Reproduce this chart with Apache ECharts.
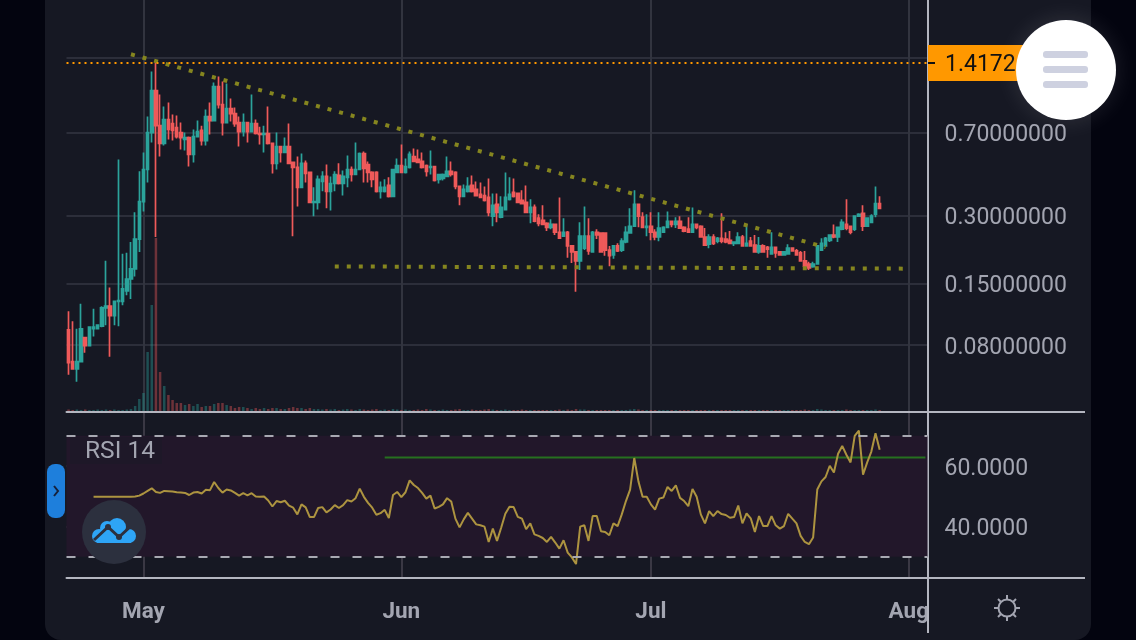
<!DOCTYPE html>
<html>
<head>
<meta charset="utf-8">
<style>
  html, body { margin: 0; padding: 0; background: #03040f; }
  #chart { width: 1136px; height: 640px; }
</style>
<script src="https://cdn.jsdelivr.net/npm/echarts@6/dist/echarts.min.js"></script>
</head>
<body>
<div id="chart"></div>
<script>
// 12h candles, first one is 22 Apr
const opens = [
  .0935,.0675,.0628,.0675,.0863,.0795,.0945,.0945,.097,.117,.119,.108,.125,.125,.139,.157,.174,.236,.346,.480,
  .700,1.074,.751,.626,.799,.767,.736,.700,.652,.665,.560,.672,.715,.645,.824,.791,1.119,.931,.775,.894,
  .849,.775,.707,.775,.707,.767,.693,.686,.693,.626,.511,.607,.571,.607,.516,.490,.400,.511,.466,.343,
  .343,.425,.447,.384,.416,.452,.416,.443,.480,.456,.480,.565,.505,.466,.466,.384,.384,.408,.365,.466,
  .500,.466,.490,.548,.532,.521,.500,.490,.495,.434,.438,.447,.471,.466,.404,.365,.384,.408,.392,.372,
  .368,.361,.298,.336,.295,.319,.354,.380,.376,.350,.343,.310,.326,.292,.286,.277,.266,.274,.253,.243,
  .253,.220,.207,.189,.215,.243,.207,.253,.251,.251,.211,.201,.220,.211,.229,.251,.269,.336,.295,.266,
  .269,.253,.241,.253,.266,.283,.274,.283,.266,.261,.253,.274,.269,.241,.224,.241,.231,.238,.236,.233,
  .226,.226,.241,.220,.231,.222,.207,.220,.217,.203,.217,.207,.201,.203,.215,.209,.205,.189,.183,.178,
  .183,.211,.220,.233,.246,.241,.261,.274,.269,.261,.298,.307,.269,.280,.304,.339
]
const closes = [
  .0668,.0628,.0675,.0945,.0795,.096,.096,.098,.117,.119,.108,.125,.126,.142,.157,.174,.236,.346,.480,.700,
  1.074,.751,.626,.799,.722,.715,.672,.665,.665,.560,.672,.707,.645,.824,.791,1.119,.931,.775,.894,.849,
  .767,.707,.775,.707,.767,.693,.686,.693,.626,.511,.607,.571,.607,.511,.490,.400,.511,.461,.343,.346,
  .434,.447,.384,.416,.456,.416,.447,.480,.456,.480,.565,.485,.466,.434,.384,.400,.400,.365,.480,.500,
  .466,.495,.560,.521,.516,.490,.471,.495,.429,.456,.456,.471,.456,.404,.365,.392,.404,.384,.368,.361,
  .350,.310,.333,.310,.326,.361,.372,.365,.343,.339,.310,.326,.283,.277,.274,.266,.274,.253,.238,.253,
  .220,.207,.189,.243,.243,.209,.253,.246,.207,.211,.199,.220,.209,.231,.253,.269,.336,.298,.266,.269,
  .253,.241,.264,.266,.283,.274,.283,.264,.256,.253,.274,.266,.241,.222,.241,.226,.238,.231,.229,.226,
  .229,.241,.220,.226,.220,.207,.220,.207,.213,.217,.205,.201,.207,.215,.209,.201,.189,.179,.176,.183,
  .220,.226,.238,.246,.241,.266,.280,.264,.253,.298,.304,.269,.292,.298,.339,.323
]
const lows = [
  .0591,.0628,.055,.0675,.074,.0795,.0872,.0945,.096,.098,.071,.098,.097,.120,.133,.128,.161,.207,.313,.420,
  .632,.241,.548,.613,.652,.645,.658,.589,.583,.495,.516,.665,.613,.613,.686,.783,.894,.679,.775,.783,
  .743,.607,.672,.632,.707,.686,.619,.571,.619,.461,.480,.516,.571,.511,.243,.329,.400,.420,.343,.298,
  .319,.384,.323,.316,.384,.412,.368,.400,.425,.456,.480,.420,.420,.400,.380,.357,.380,.361,.365,.466,
  .466,.461,.485,.521,.516,.485,.447,.456,.425,.416,.429,.443,.447,.392,.333,.365,.380,.380,.368,.361,
  .346,.298,.269,.280,.292,.319,.350,.361,.343,.339,.310,.277,.280,.269,.274,.256,.261,.246,.238,.243,
  .195,.185,.138,.172,.211,.201,.207,.236,.207,.199,.179,.193,.207,.207,.226,.251,.269,.266,.264,.243,
  .233,.233,.231,.253,.264,.266,.264,.264,.253,.253,.253,.261,.241,.220,.215,.222,.226,.226,.226,.224,
  .220,.224,.220,.220,.220,.207,.203,.205,.195,.201,.195,.201,.201,.201,.209,.199,.189,.176,.172,.176,
  .183,.209,.220,.229,.238,.229,.258,.258,.248,.256,.298,.256,.269,.280,.295,.323
]
const highs = [
  .113,.102,.0945,.122,.0863,.096,.116,.098,.119,.189,.144,.125,.532,.203,.205,.229,.310,.471,.571,.824,
  1.304,1.430,1.032,.913,.950,.841,.832,.775,.700,.672,.722,.791,.751,.885,.950,1.166,1.240,1.178,1.154,.990,
  .904,.824,.849,.775,1.032,.799,.743,.751,.913,.632,.700,.607,.665,.767,.521,.548,.565,.526,.466,.400,
  .452,.471,.505,.447,.471,.511,.475,.554,.495,.632,.571,.577,.521,.471,.471,.425,.434,.443,.480,.537,
  .619,.537,.577,.595,.589,.571,.505,.583,.495,.456,.461,.548,.521,.471,.404,.412,.443,.452,.425,.420,
  .404,.438,.376,.376,.365,.466,.443,.438,.380,.388,.408,.354,.336,.304,.333,.280,.289,.274,.361,.292,
  .256,.222,.209,.280,.329,.292,.256,.261,.251,.251,.220,.222,.226,.238,.269,.323,.388,.336,.310,.304,
  .310,.261,.310,.269,.313,.283,.295,.298,.269,.295,.326,.274,.272,.264,.248,.248,.241,.307,.253,.256,
  .231,.253,.246,.274,.241,.246,.241,.224,.220,.253,.217,.207,.207,.224,.217,.213,.209,.209,.187,.187,
  .222,.238,.241,.248,.274,.266,.289,.354,.269,.298,.307,.333,.295,.304,.404,.365
]
const volumes = [
  1.5,1,1.5,1,1.5,1,1,1.5,1,1.5,1,1.5,1,1,1.5,2,5,12,18,59,
  106,173,39,25,16,11,8,8,6,7,5,7,4,5,5,7,8,8,6,5,
  3,4,4,3,2,3,2,3,2,3,3,2,2,3,4,3,3,2,3,2,
  2,1.5,2,1.5,2,1,1.5,2,1.5,1,2,1.5,1,1.5,2,1,1.5,1,2,1.5,
  1,1.5,1,1,1.5,1,2,1.5,1,1,1.5,1,1,1.5,2,1,1,1.5,1,1,
  1.5,2,1.5,1,1,1.5,1,1,1,1.5,1,1,1,1,1,1,1,1,1.5,1,
  1.5,1,2,1.5,1.5,1,1,1,1,1,1,1,1,1,1,1.5,2,1.5,1,1,
  1,1,1,1,1,1,1,1,1,1,1,1,1,1,1,1,1,1,1,1,
  1,1,1,1,1,1,1,1,1,1,1,1,1,1,1,1,1,1.5,1,1,
  2,1.5,1,1,1,1,1,1.5,1,1,1,1,1,1,1.5,1
]
const rsi = [
  null,null,null,null,null,null,49.8,49.8,49.8,49.8,49.8,49.8,49.8,49.8,49.8,49.8,49.9,50.2,50.9,51.75,
  52.6,51.4,51.1,51.75,51.65,51.55,51.3,51.2,51.1,50.4,51.2,51.4,50.9,52.1,52,54.7,52.7,51.2,52.2,51.9,
  51.1,50.2,51,50.3,51,49.9,49.8,49.9,48.6,46.6,48.4,48,48.5,46.9,46.2,44,47.3,46.3,43.1,43.1,
  46.1,46.4,44.65,45.6,47.05,46.1,47.05,48.7,48.25,49.35,52.5,49.8,47.8,46.2,43.9,44.4,45.5,42.8,50.4,51.4,
  49.7,51.3,55.25,53.7,52.7,51.1,49.2,50.2,45.95,46.5,47.3,49.35,48.25,42.6,39.7,42.35,44.5,42.6,40.7,40.4,
  39.95,34.9,39.3,35.25,39.6,44.2,46.5,46.4,43.2,42.6,39.1,41.05,37.4,36.9,36.2,34.9,36.6,34.7,32.7,35.45,
  31.4,29.8,27.6,39.95,40.4,35.25,43.45,43.45,38.4,38.2,37.1,41.05,40.15,44,48.4,52.2,62.6,54.9,49.8,49.8,
  47.3,45.6,49.2,49.55,53.05,51.75,53.6,49.45,48.4,46.7,52.4,49.8,44,41.05,45.1,43.45,45.1,44.1,43.8,42.9,
  43.1,46.9,41.05,44.3,42.7,38.2,43.45,40.15,40.15,43.45,40.4,39.3,40.15,44.2,42.6,41.05,36.9,34.9,34.15,36.35,
  52.2,54.9,56.35,60.05,57.85,64,66.6,63.7,61.15,69.9,71.65,57.1,61.15,64.75,70.8,65.3
]

const lastPrice = 1.4172
const priceTicks = [0.08, 0.15, 0.3, 0.7, 1.5, 3]
const rsiTicks = [40, 60]
const rsiBand = [30, 70]
const monthIndexes = [18, 80, 140, 202]
const monthLabels = ['May', 'Jun', 'Jul', 'Aug']

// hand drawn lines on the chart: [candle index, value]
const fallingTrend = [[14.7, 1.556], [181.5, 0.217]]
const supportLine = [[64.4, 0.1785], [200.8, 0.1745]]
const rsiLine = [[76, 62.8], [205.5, 62.8]]

const categories = []
for (let i = 0; i < 207; i++) {
  const d = new Date(Date.UTC(2019, 3, 22) + i * 43200000)
  categories.push(d.toISOString().slice(0, 13))
}

const UP = '#2ba39b'
const DOWN = '#ef5a5a'
const TEXT = '#a3a5b1'
const AXIS = '#b4b6c0'
const GRID_LINE = '#2c2e3a'
const FONT = 'Roboto, sans-serif'

const isMonth = (i) => monthIndexes.includes(i)

const hiddenX = (gridIndex) => ({
  type: 'category',
  gridIndex,
  data: categories,
  axisLabel: { show: false },
  axisTick: { show: false },
  axisLine: { show: gridIndex === 0, lineStyle: { color: AXIS, width: 2 } },
  splitLine: { show: gridIndex === 0, interval: isMonth, alignWithLabel: true, lineStyle: { color: '#32343f', width: 2 } }
})

const option = {
  animation: false,
  backgroundColor: '#03040f',
  grid: [
    { left: 66.5, width: 861, top: -20, height: 432, outerBoundsMode: 'none' },
    { left: 66.5, width: 861, top: 211, height: 200, outerBoundsMode: 'none' },
    { left: 66.5, width: 861, top: 412, height: 166, outerBoundsMode: 'none' }
  ],
  xAxis: [
    hiddenX(0),
    hiddenX(1),
    {
      type: 'category',
      gridIndex: 2,
      data: categories,
      axisLine: { lineStyle: { color: AXIS, width: 2 } },
      axisTick: { interval: isMonth, alignWithLabel: true, length: 6, lineStyle: { color: AXIS, width: 2 } },
      splitLine: { show: true, interval: isMonth, alignWithLabel: true, lineStyle: { color: '#3a3844', width: 2 } },
      axisLabel: {
        interval: isMonth,
        margin: 23,
        color: TEXT,
        fontFamily: FONT,
        fontSize: 22.5,
        fontWeight: 'bold',
        formatter: (v, i) => monthLabels[monthIndexes.indexOf(i)] || ''
      }
    }
  ],
  yAxis: [
    {
      type: 'log',
      gridIndex: 0,
      position: 'right',
      // 0.7 sits at y=132.5
      min: 0.0404,
      max: 3.32,
      axisLine: { show: true, lineStyle: { color: AXIS, width: 2 } },
      axisTick: { customValues: priceTicks, length: 9, lineStyle: { color: AXIS, width: 2 } },
      splitLine: { show: true, lineStyle: { color: GRID_LINE, width: 2 } },
      axisLabel: {
        customValues: priceTicks,
        margin: 17,
        color: TEXT,
        fontFamily: FONT,
        fontSize: 23,
        verticalAlign: 'top',
        lineHeight: 6,
        formatter: (v) => Number(v).toFixed(8)
      }
    },
    { type: 'value', gridIndex: 1, min: 0, max: 200, show: false, splitLine: { show: false } },
    {
      type: 'value',
      gridIndex: 2,
      position: 'right',
      min: 23,
      max: 77.8,
      axisLine: { show: true, lineStyle: { color: AXIS, width: 2 } },
      axisTick: { customValues: rsiTicks, length: 9, lineStyle: { color: AXIS, width: 2 } },
      splitLine: { show: true, lineStyle: { color: '#3a3144', width: 2 } },
      axisLabel: {
        customValues: rsiTicks,
        margin: 17,
        color: TEXT,
        fontFamily: FONT,
        fontSize: 23,
        verticalAlign: 'top',
        lineHeight: 6,
        formatter: (v) => Number(v).toFixed(4)
      }
    }
  ],
  series: [
    {
      name: 'Volume',
      type: 'bar',
      xAxisIndex: 1,
      yAxisIndex: 1,
      barWidth: 2.5,
      z: 1,
      data: volumes.map((v, i) => ({
        value: v,
        itemStyle: { color: closes[i] >= opens[i] ? 'rgba(43,163,155,0.4)' : 'rgba(239,90,90,0.4)' }
      }))
    },
    {
      name: 'Price',
      type: 'candlestick',
      xAxisIndex: 0,
      yAxisIndex: 0,
      barWidth: 3,
      z: 2,
      itemStyle: { color: UP, color0: DOWN, borderColor: UP, borderColor0: DOWN, borderWidth: 1.7 },
      data: opens.map((o, i) => [o, closes[i], lows[i], highs[i]]),
      markLine: {
        silent: true,
        symbol: 'none',
        label: { show: false },
        lineStyle: { color: '#ff9800', type: [2, 4], width: 2 },
        data: [{ yAxis: lastPrice }]
      }
    },
    {
      name: 'Falling trend',
      type: 'line',
      xAxisIndex: 0,
      yAxisIndex: 0,
      z: 3,
      symbol: 'none',
      lineStyle: { color: '#85851f', width: 4, type: [4, 8] },
      data: fallingTrend
    },
    {
      name: 'Support',
      type: 'line',
      xAxisIndex: 0,
      yAxisIndex: 0,
      z: 3,
      symbol: 'none',
      lineStyle: { color: '#85851f', width: 4, type: [4, 8] },
      data: supportLine
    },
    {
      name: 'RSI',
      type: 'line',
      xAxisIndex: 2,
      yAxisIndex: 2,
      z: 3,
      symbol: 'none',
      lineStyle: { color: '#ad9440', width: 2 },
      data: rsi,
      markArea: {
        silent: true,
        itemStyle: { color: '#22172a' },
        data: [[{ yAxis: rsiBand[0] }, { yAxis: rsiBand[1] }]]
      },
      markLine: {
        silent: true,
        symbol: 'none',
        label: { show: false },
        lineStyle: { color: '#a8a9b2', type: [9, 13], width: 2 },
        data: [{ yAxis: rsiBand[1] }, { yAxis: rsiBand[0] }]
      }
    },
    {
      name: 'RSI line',
      type: 'line',
      xAxisIndex: 2,
      yAxisIndex: 2,
      z: 2,
      symbol: 'none',
      lineStyle: { color: '#26701f', width: 2 },
      data: rsiLine
    }
  ],
  // the app chrome around the chart
  graphic: [
    { type: 'rect', z: -10, shape: { x: 45, y: -30, width: 1046, height: 670, r: 16 }, style: { fill: '#161823' } },
    { type: 'line', z: 50, shape: { x1: 928, y1: 578, x2: 928, y2: 633 }, style: { stroke: AXIS, lineWidth: 2 } },
    { type: 'line', z: 50, shape: { x1: 927, y1: 412, x2: 1085, y2: 412 }, style: { stroke: AXIS, lineWidth: 2 } },
    { type: 'line', z: 50, shape: { x1: 927, y1: 578, x2: 1085, y2: 578 }, style: { stroke: AXIS, lineWidth: 2 } },
    // last price tag
    { type: 'rect', z: 60, shape: { x: 928, y: 45, width: 120, height: 36 }, style: { fill: '#ff9800' } },
    { type: 'line', z: 61, shape: { x1: 928, y1: 63, x2: 935, y2: 63 }, style: { stroke: '#111', lineWidth: 2 } },
    { type: 'text', z: 61, x: 945, y: 65, style: { text: lastPrice.toFixed(4), fill: '#111', font: '23px ' + FONT, textVerticalAlign: 'middle' } },
    // menu button
    { type: 'circle', z: 70, shape: { cx: 1066, cy: 70, r: 50 }, style: { fill: '#fff', shadowBlur: 24, shadowColor: 'rgba(255,255,255,0.12)' } },
    { type: 'rect', z: 71, shape: { x: 1043, y: 51, width: 45, height: 7, r: 3 }, style: { fill: '#ced1e0' } },
    { type: 'rect', z: 71, shape: { x: 1043, y: 66, width: 45, height: 7, r: 3 }, style: { fill: '#ced1e0' } },
    { type: 'rect', z: 71, shape: { x: 1043, y: 81, width: 45, height: 7, r: 3 }, style: { fill: '#ced1e0' } },
    // RSI legend
    { type: 'rect', z: 40, shape: { x: 70, y: 437, width: 92, height: 27 }, style: { fill: 'rgba(30,26,40,0.75)' } },
    { type: 'text', z: 41, x: 85, y: 452, style: { text: 'RSI 14', fill: TEXT, font: '24.5px ' + FONT, textVerticalAlign: 'middle' } },
    // side handle
    { type: 'rect', z: 60, shape: { x: 47, y: 464, width: 18, height: 54, r: 8 }, style: { fill: '#1e7fdc' } },
    { type: 'polyline', z: 61, shape: { points: [[54, 486], [58, 491], [54, 496]] }, style: { stroke: '#16213a', fill: 'none', lineWidth: 2 } },
    // logo
    { type: 'circle', z: 60, shape: { cx: 114, cy: 532, r: 32 }, style: { fill: '#2c303e' } },
    { type: 'rect', z: 61, shape: { x: 97, y: 531, width: 34, height: 12 }, style: { fill: '#2ea5f6' } },
    { type: 'circle', z: 61, shape: { cx: 99, cy: 536, r: 7 }, style: { fill: '#2ea5f6' } },
    { type: 'circle', z: 61, shape: { cx: 107, cy: 528, r: 7 }, style: { fill: '#2ea5f6' } },
    { type: 'circle', z: 61, shape: { cx: 117, cy: 527, r: 9 }, style: { fill: '#2ea5f6' } },
    { type: 'circle', z: 61, shape: { cx: 129, cy: 536, r: 7 }, style: { fill: '#2ea5f6' } },
    { type: 'polyline', z: 62, shape: { points: [[94, 540], [108, 527], [119, 537], [130, 527]] }, style: { stroke: '#2c303e', fill: 'none', lineWidth: 3 } },
    { type: 'circle', z: 62, shape: { cx: 108, cy: 527, r: 3 }, style: { fill: '#2c303e' } },
    { type: 'circle', z: 62, shape: { cx: 119, cy: 537, r: 3 }, style: { fill: '#2c303e' } },
    // theme switch
    { type: 'circle', z: 60, shape: { cx: 1007, cy: 608, r: 8.5 }, style: { fill: 'none', stroke: TEXT, lineWidth: 2 } },
    { type: 'line', z: 60, shape: { x1: 1007, y1: 595, x2: 1007, y2: 599 }, style: { stroke: TEXT, lineWidth: 2 } },
    { type: 'line', z: 60, shape: { x1: 1007, y1: 617, x2: 1007, y2: 621 }, style: { stroke: TEXT, lineWidth: 2 } },
    { type: 'line', z: 60, shape: { x1: 994, y1: 608, x2: 998, y2: 608 }, style: { stroke: TEXT, lineWidth: 2 } },
    { type: 'line', z: 60, shape: { x1: 1016, y1: 608, x2: 1020, y2: 608 }, style: { stroke: TEXT, lineWidth: 2 } },
    { type: 'line', z: 60, shape: { x1: 998, y1: 599, x2: 1001, y2: 602 }, style: { stroke: TEXT, lineWidth: 2 } },
    { type: 'line', z: 60, shape: { x1: 1013, y1: 614, x2: 1016, y2: 617 }, style: { stroke: TEXT, lineWidth: 2 } },
    { type: 'line', z: 60, shape: { x1: 1016, y1: 599, x2: 1013, y2: 602 }, style: { stroke: TEXT, lineWidth: 2 } },
    { type: 'line', z: 60, shape: { x1: 1001, y1: 614, x2: 998, y2: 617 }, style: { stroke: TEXT, lineWidth: 2 } }
  ]
}

const chart = echarts.init(document.getElementById('chart'))
chart.setOption(option)
</script>
</body>
</html>
